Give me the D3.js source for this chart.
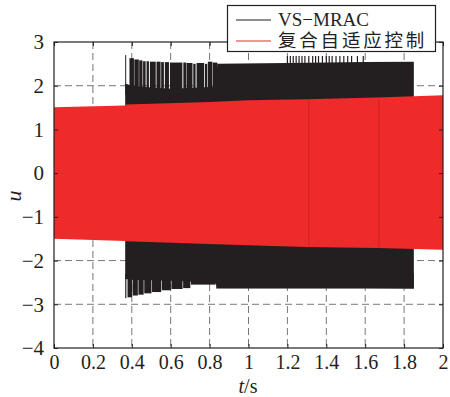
<!DOCTYPE html>
<html>
<head>
<meta charset="utf-8">
<script src="https://cdn.jsdelivr.net/npm/d3@7"></script>
<style>
  html, body { margin: 0; padding: 0; background: #fff; }
  svg text { font-family: "Liberation Serif", "DejaVu Serif", serif; fill: #231f20; }
  .cjk { font-family: "Noto Sans CJK SC", sans-serif; }
</style>
</head>
<body>
<div id="chart"></div>
<script>
// tick values
const xTicks = [0, 0.2, 0.4, 0.6, 0.8, 1, 1.2, 1.4, 1.6, 1.8, 2];
const yTicks = [-4, -3, -2, -1, 0, 1, 2, 3];

// red series (复合自适应控制): envelope of the fast oscillation
const redT  = [0, 0.366, 0.37, 0.8, 1.0, 1.3, 1.66, 2.0];
const redHi = [1.51, 1.55, 1.57, 1.63, 1.67, 1.69, 1.73, 1.78];
const redLo = [-1.50, -1.55, -1.56, -1.62, -1.65, -1.69, -1.71, -1.75];
const redMarks = [1.31, 1.67];

// black series (VS-MRAC): solid core of the oscillation
const coreT  = [0.366, 0.40, 0.50, 0.60, 0.70, 0.80, 0.83, 0.84, 1.2, 1.6, 1.85];
const coreHi = [2.05, 2.0, 1.96, 1.93, 1.95, 1.97, 1.98, 2.50, 2.52, 2.54, 2.55];
const coreLo = [-2.42, -2.44, -2.45, -2.46, -2.48, -2.50, -2.52, -2.60, -2.62, -2.63, -2.64];

// black peaks above the core: [t start, t end, peak]
const topBands = [
  [0.366, 0.371, 2.70], [0.388, 0.411, 2.63], [0.413, 0.436, 2.60], [0.438, 0.455, 2.58],
  [0.458, 0.471, 2.56], [0.476, 0.488, 2.56], [0.493, 0.523, 2.55], [0.527, 0.548, 2.55],
  [0.551, 0.565, 2.54], [0.570, 0.591, 2.54], [0.596, 0.660, 2.53], [0.665, 0.681, 2.53],
  [0.683, 0.712, 2.52], [0.716, 0.728, 2.50], [0.733, 0.772, 2.52], [0.776, 0.788, 2.50],
  [0.791, 0.814, 2.55], [0.816, 0.840, 2.53]
];
// black troughs below the core
const bottomBands = [
  [0.366, 0.372, -2.86], [0.378, 0.401, -2.84], [0.404, 0.431, -2.80], [0.434, 0.461, -2.78],
  [0.464, 0.501, -2.75], [0.504, 0.551, -2.72], [0.554, 0.601, -2.68], [0.604, 0.661, -2.65],
  [0.664, 0.701, -2.63], [0.704, 0.831, -2.55], [0.834, 1.850, -2.64]
];
// thin spikes on top after t = 1.2
const topSpikes = [1.20, 1.215, 1.23, 1.245, 1.26, 1.275, 1.29, 1.31, 1.33, 1.345, 1.36,
  1.38, 1.40, 1.415, 1.43, 1.45, 1.47, 1.49, 1.51, 1.53, 1.56, 1.59];
const spikeTop = 2.68;

const W = 450, H = 397;
const margin = { top: 42, right: 7, bottom: 49, left: 54 };
const width = W - margin.left - margin.right;
const height = H - margin.top - margin.bottom;

const svg = d3.select('#chart').append('svg')
  .attr('width', W).attr('height', H);
const g = svg.append('g').attr('transform', `translate(${margin.left},${margin.top})`);

const x = d3.scaleLinear().domain([0, 2]).range([0, width]);
const y = d3.scaleLinear().domain([-4, 3]).range([height, 0]);

// grid
g.append('g').selectAll('line').data(xTicks.slice(1, -1)).enter().append('line')
  .attr('x1', d => x(d)).attr('x2', d => x(d)).attr('y1', 0).attr('y2', height)
  .attr('stroke', '#777').attr('stroke-dasharray', '7,4');
g.append('g').selectAll('line').data(yTicks.slice(1, -1)).enter().append('line')
  .attr('y1', d => y(d)).attr('y2', d => y(d)).attr('x1', 0).attr('x2', width)
  .attr('stroke', '#777').attr('stroke-dasharray', '7,4');

const black = '#231f20', red = '#ee2b2a';

// black series
const band = d3.area().x(d => x(d[0])).y0(d => y(d[2])).y1(d => y(d[1]));
g.append('path')
  .datum(coreT.map((t, i) => [t, coreHi[i], coreLo[i]]))
  .attr('d', band).attr('fill', black);
g.selectAll('.topband').data(topBands).enter().append('rect')
  .attr('x', d => x(d[0])).attr('width', d => Math.max(1, x(d[1]) - x(d[0])))
  .attr('y', d => y(d[2])).attr('height', d => y(1.8) - y(d[2]))
  .attr('fill', black);
g.selectAll('.botband').data(bottomBands).enter().append('rect')
  .attr('x', d => x(d[0])).attr('width', d => Math.max(1, x(d[1]) - x(d[0])))
  .attr('y', y(-2.3)).attr('height', d => y(d[2]) - y(-2.3))
  .attr('fill', black);
g.selectAll('.spike').data(topSpikes).enter().append('line')
  .attr('x1', d => x(d)).attr('x2', d => x(d))
  .attr('y1', y(2.4)).attr('y2', y(spikeTop))
  .attr('stroke', black).attr('stroke-width', 1.2);

// red series
g.append('path')
  .datum(redT.map((t, i) => [t, redHi[i], redLo[i]]))
  .attr('d', band).attr('fill', red);
g.selectAll('.mark').data(redMarks).enter().append('line')
  .attr('x1', d => x(d)).attr('x2', d => x(d))
  .attr('y1', y(1.7)).attr('y2', y(-1.7))
  .attr('stroke', '#c91e1e').attr('stroke-width', 0.8);

// axes
const fmt = d3.format('~g');
const xAxis = g.append('g').attr('transform', `translate(0,${height})`)
  .call(d3.axisBottom(x).tickValues(xTicks).tickSize(-4).tickPadding(7).tickFormat(fmt));
const yAxis = g.append('g')
  .call(d3.axisLeft(y).tickValues(yTicks).tickSize(-4).tickPadding(10).tickFormat(d3.format('')));
g.append('g').call(d3.axisTop(x).tickValues(xTicks).tickSize(-4).tickFormat(''));
g.append('g').attr('transform', `translate(${width},0)`)
  .call(d3.axisRight(y).tickValues(yTicks).tickSize(-4).tickFormat(''));
svg.selectAll('.domain').remove();
svg.selectAll('.tick line').attr('stroke', black);
xAxis.selectAll('text').style('font-size', '20px');
yAxis.selectAll('text').style('font-size', '21px');

g.append('rect').attr('width', width).attr('height', height)
  .attr('fill', 'none').attr('stroke', black).attr('stroke-width', 1.2);

// axis labels
svg.append('text').attr('transform', 'translate(21,196) rotate(-90)')
  .attr('text-anchor', 'middle').style('font-size', '22px').style('font-style', 'italic').text('u');
const xl = svg.append('text').attr('x', 248).attr('y', 393)
  .attr('text-anchor', 'middle').style('font-size', '20px');
xl.append('tspan').style('font-style', 'italic').text('t');
xl.append('tspan').text('/s');

// legend
const lg = svg.append('g');
lg.append('rect').attr('x', 227.5).attr('y', 5.5).attr('width', 208).attr('height', 46)
  .attr('fill', '#fff').attr('stroke', black).attr('stroke-width', 1.2);
lg.append('line').attr('x1', 236).attr('x2', 271).attr('y1', 20).attr('y2', 20)
  .attr('stroke', black).attr('stroke-width', 1.2);
lg.append('line').attr('x1', 236).attr('x2', 271).attr('y1', 41).attr('y2', 41)
  .attr('stroke', red).attr('stroke-width', 1.2);
lg.append('text').attr('x', 278).attr('y', 26).style('font-size', '19px').text('VS\u2212MRAC');
lg.append('text').attr('class', 'cjk').attr('x', 278).attr('y', 47)
  .style('font-size', '18.5px').style('letter-spacing', '2.8px').text('复合自适应控制');
</script>
</body>
</html>
